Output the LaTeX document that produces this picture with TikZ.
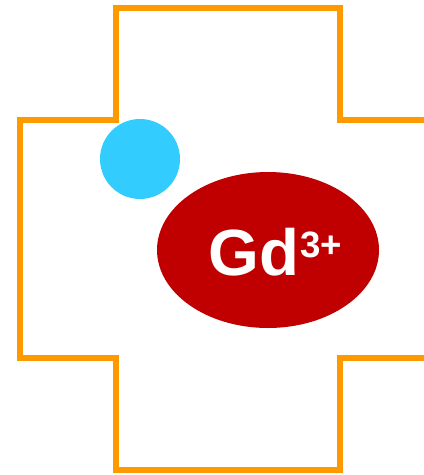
\documentclass[tikz,border=0pt]{standalone}
\usepackage{fontspec}
\setmainfont{Liberation Sans}
\definecolor{frameorange}{HTML}{FF9900}
\definecolor{ionblue}{HTML}{33CCFF}
\definecolor{gdred}{HTML}{C00000}
\begin{document}
\begin{tikzpicture}[x=0.75pt,y=-0.75pt,
  frame/.style={draw=frameorange,line width=3.8pt,line join=miter},
  ionlabel/.style={text=white,font=\bfseries,inner sep=0pt,anchor=base west}]
\useasboundingbox (0,0) rectangle (424,475);
% cross-shaped outline, open on the right
\draw[frame] (424,120) -- (340,120) -- (340,8) -- (116,8) -- (116,120)
  -- (20,120) -- (20,358) -- (116,358) -- (116,470) -- (340,470)
  -- (340,358) -- (424,358);
% water molecule and gadolinium ion
\fill[ionblue] (140,159) circle [radius=40];
\fill[gdred] (268,250) ellipse [x radius=111, y radius=78];
\node[ionlabel] (gd) at (208,275)
  {\fontsize{49pt}{50pt}\selectfont Gd\kern1pt\raisebox{13.5pt}{\fontsize{27.5pt}{28pt}\selectfont 3+}};
\end{tikzpicture}
\end{document}
